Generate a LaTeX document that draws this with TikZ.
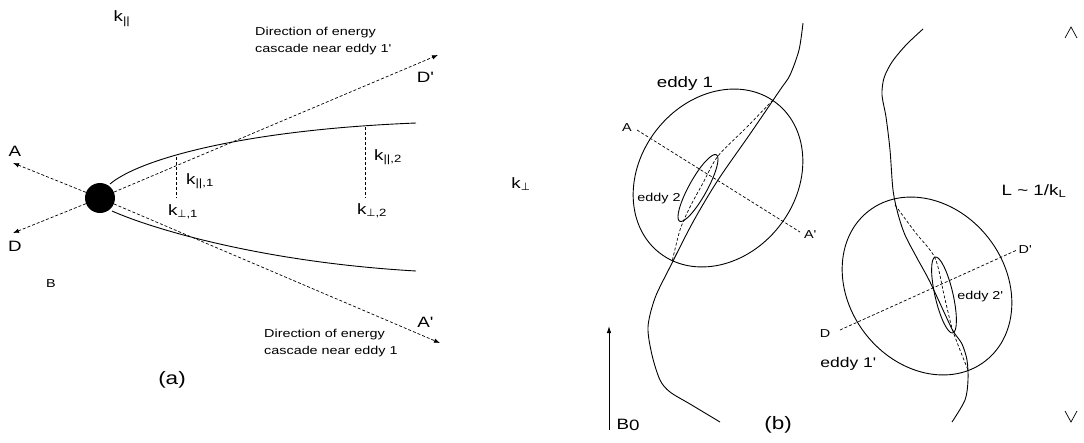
\documentclass[tikz,border=0pt]{standalone}
\usepackage{fontspec}
\setmainfont{Liberation Sans}[FakeStretch=1.25]
\newfontfamily\perpfont{DejaVu Sans}
\usepackage{tikz}
\usetikzlibrary{arrows.meta}
\newcommand\aprime{\textquotesingle}
\newcommand\perpsign{{\perpfont ⊥}}
\newcommand\fsbig{\fontsize{18}{20}\selectfont}
\newcommand\fsmid{\fontsize{15}{17}\selectfont}
\newcommand\fssmall{\fontsize{11.5}{17}\selectfont}
\tikzset{
  curveline/.style={line width=0.9pt},
  guideline/.style={dash pattern=on 3pt off 2pt, line width=0.7pt},
  guidearrow/.style={guideline, -{Latex[length=6pt,width=4.5pt]}},
  fieldarrow/.style={line width=0.9pt, -{Latex[length=7pt,width=4.5pt]}},
  dotnode/.style={circle, fill=black, minimum size=30pt, inner sep=0pt},
  lbl/.style={font=\fsmid, inner sep=1pt},
  smalllbl/.style={font=\fssmall, inner sep=1pt},
  captionlbl/.style={font=\fsbig, inner sep=1pt},
  notelbl/.style={font=\fssmall, align=left, inner sep=0pt},
}

\begin{document}
\begin{tikzpicture}[x=1pt, y=-1pt]
  \useasboundingbox (0,0) rectangle (1084,442);

  % (a) wavevector space
  \node[dotnode] (origin) at (100,198) {};
  \coordinate (tipA) at (13,163);
  \coordinate (tipA2) at (440,343);
  \coordinate (tipD) at (13,233);
  \coordinate (tipD2) at (438,55);
  \draw[guidearrow] (origin) -- (tipA);
  \draw[guidearrow] (origin) -- (tipA2);
  \draw[guidearrow] (origin) -- (tipD);
  \draw[guidearrow] (origin) -- (tipD2);

  % critical balance curves
  \draw[curveline] (110,184) .. controls (138,160) and (240,130) .. (416,123);
  \draw[curveline] (112,211) .. controls (150,228) and (260,262) .. (416,271);
  \draw[guideline] (176,157) -- (176,198);
  \draw[guideline] (365,127) -- (365,198);

  \node[lbl] (labA) at (15,151) {A};
  \node[lbl] (labD) at (15,246) {D};
  \node[lbl] (labD2) at (425,77) {D\aprime};
  \node[lbl] (labA2) at (425,322) {A\aprime};
  \node[lbl] (kpar) at (122,19) {k\textsubscript{||}};
  \node[lbl] (kperp) at (521,184) {k\textsubscript{\perpsign}};
  \node[lbl] (kpar1) at (200,181) {k\textsubscript{||,1}};
  \node[lbl] (kperp1) at (183,212) {k\textsubscript{\perpsign,1}};
  \node[lbl] (kpar2) at (388,157) {k\textsubscript{||,2}};
  \node[lbl] (kperp2) at (372,211) {k\textsubscript{\perpsign,2}};
  \node[notelbl, anchor=north west] (noteD) at (255,27) {Direction of energy\\cascade near eddy 1\aprime};
  \node[notelbl, anchor=north west] (noteA) at (264,329) {Direction of energy\\cascade near eddy 1};
  \node[smalllbl] (labB) at (51,284) {B};
  \node[captionlbl] (capa) at (172,380) {(a)};

  % (b) eddies along field lines
  \draw[curveline] plot[smooth] coordinates {(803,23) (799,50) (790,75) (780,90) (750,134) (718,180) (693,222) (670,267) (655,298) (648,327) (652,355) (660,380) (670,392) (690,404) (720,422)};
  \draw[curveline] plot[smooth] coordinates {(923,29) (906,45) (892,62) (884,78) (882,95) (886,117) (890,150) (893,190) (898,214) (905,235) (917,258) (930,282) (950,325) (955,334) (962,344) (967,360) (968,380) (965,400) (952,422)};

  \draw[curveline, rotate around={-38:(718,178)}] (718,178) ellipse [x radius=78, y radius=95];
  \draw[curveline, rotate around={61:(698,188)}] (698,188) ellipse [x radius=38, y radius=9];
  \draw[curveline, rotate around={38:(927,286)}] (927,286) ellipse [x radius=78, y radius=95];
  \draw[curveline, rotate around={103:(944,295)}] (944,295) ellipse [x radius=39, y radius=9];

  \draw[guideline] plot[smooth] coordinates {(773,100) (746,128) (718,156) (703,183) (690,207) (680,230) (672,262)};
  \draw[guideline] plot[smooth] coordinates {(895,205) (915,232) (935,258) (944,295) (952,328) (960,350) (968,370)};

  \coordinate (endA) at (637,130);
  \coordinate (endA2) at (800,232);
  \coordinate (endD) at (840,330);
  \coordinate (endD2) at (1017,250);
  \draw[guideline] (endA) -- (endA2);
  \draw[guideline] (endD) -- (endD2);

  \node[smalllbl] (eA) at (627,128) {A};
  \node[smalllbl] (eA2) at (810,235) {A\aprime};
  \node[smalllbl] (eD) at (825,334) {D};
  \node[smalllbl] (eD2) at (1025,250) {D\aprime};
  \node[lbl] (eddyone) at (685,84) {eddy 1};
  \node[smalllbl] (eddytwo) at (659,199) {eddy 2};
  \node[lbl, font=\fontsize{14}{16}\selectfont] (eddyonep) at (848,364) {eddy 1\aprime};
  \node[smalllbl] (eddytwop) at (980,297) {eddy 2\aprime};
  \node[lbl] (scale) at (1034,191) {L \textasciitilde{} 1/k\textsubscript{L}};

  % mean field
  \coordinate (bbase) at (609,430);
  \coordinate (btop) at (609,326);
  \draw[fieldarrow] (bbase) -- (btop);
  \node[lbl] (bzero) at (628,425) {B\raisebox{-1.5pt}{0}};
  \node[captionlbl] (capb) at (778,425) {(b)};

  % chevrons
  \draw[line width=0.7pt] (1065,38) -- (1071,27) -- (1077,38);
  \draw[line width=0.7pt] (1065,411) -- (1071,422) -- (1077,411);
\end{tikzpicture}
\end{document}
